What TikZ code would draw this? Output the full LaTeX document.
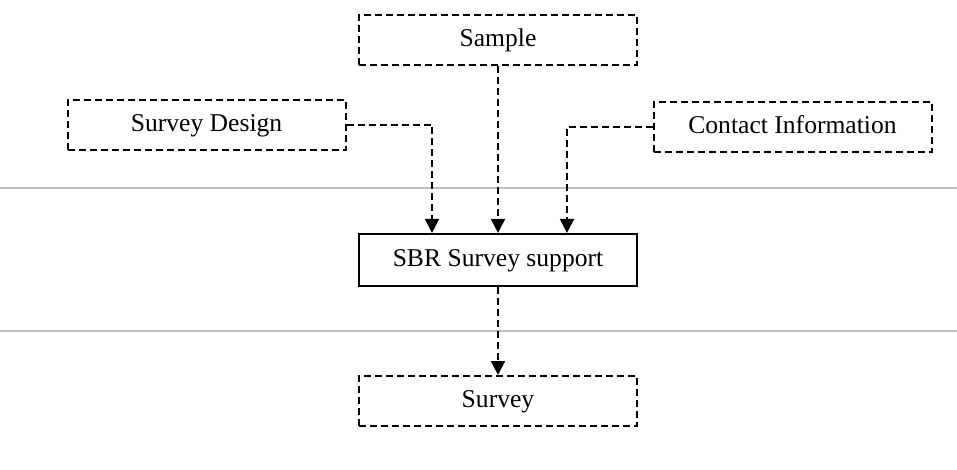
\documentclass[tikz,border=0pt]{standalone}
\usepackage{fontspec}
\setmainfont{Liberation Serif}
\usetikzlibrary{arrows.meta,positioning,calc}
\definecolor{sepcol}{RGB}{192,192,192}
\tikzset{
  % dashed data box
  dbox/.style={rectangle, draw=black, line width=1pt, dash pattern=on 3.5pt off 2pt,
               minimum width=139pt, minimum height=25pt, inner sep=2pt,
               text height=1.8ex, text depth=0.3ex,
               font=\fontsize{12.8}{15}\selectfont},
  % solid process box
  pbox/.style={rectangle, draw=black, line width=1.1pt,
               minimum width=139pt, minimum height=26pt, inner sep=2pt,
               text height=1.8ex, text depth=0.3ex,
               font=\fontsize{12.8}{15}\selectfont},
  % dashed flow arrow
  flow/.style={line width=1.1pt, dash pattern=on 3.5pt off 2pt,
               -{Triangle[length=7pt,width=7pt]}},
  % lane separator
  sepline/.style={draw=sepcol, line width=0.6pt},
}
\begin{document}
\begin{tikzpicture}[x=0.5pt, y=-0.5pt]
  \useasboundingbox (0,0) rectangle (957,470);

  % lane separators
  \draw[sepline] (0,188) -- (957,188);
  \draw[sepline] (0,331) -- (957,331);

  % inputs
  \node[dbox] (sample) at (498,40) {Sample};
  \node[dbox] (design) at (206.5,125) {Survey Design};
  \node[dbox] (contact) at (792.5,127) {Contact Information};

  % process
  \node[pbox] (sbr) at (498,260) {SBR Survey support};

  % output
  \node[dbox] (survey) at (498,401) {Survey};

  % flows
  \draw[flow] (sample) -- (sbr);
  \draw[flow] (design.east) -| ([xshift=-33pt]sbr.north);
  \draw[flow] (contact.west) -| ([xshift=34.5pt]sbr.north);
  \draw[flow] (sbr) -- (survey);
\end{tikzpicture}
\end{document}
